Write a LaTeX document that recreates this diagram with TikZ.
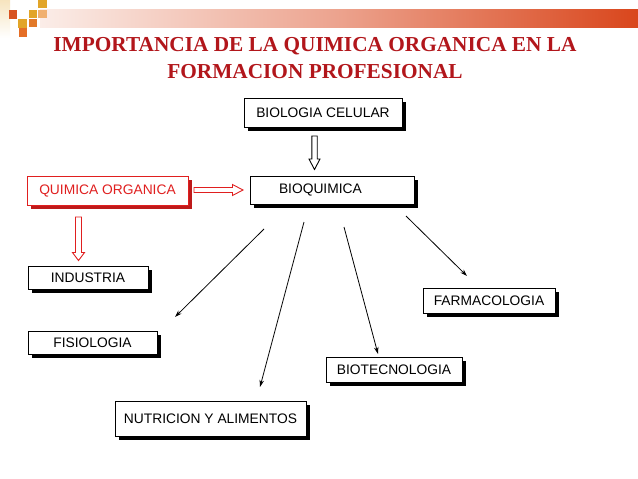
\documentclass[tikz,border=0pt]{standalone}
\usepackage{fontspec}
\setmainfont{Liberation Sans}
\newfontfamily\titlefont{Liberation Serif}
\usetikzlibrary{shadows,arrows.meta}
\definecolor{titlered}{HTML}{B2161B}
\definecolor{boxred}{HTML}{E01F1F}
\definecolor{gold}{HTML}{E2A528}
\definecolor{redorange}{HTML}{D8531F}
\definecolor{orng}{HTML}{E27A2A}
\definecolor{peach}{HTML}{F0B070}
\definecolor{barright}{HTML}{D9461C}
\definecolor{barleft}{HTML}{FBEDE8}
\tikzset{
  box/.style={draw=black, line width=1pt, fill=white, inner sep=0pt,
    font=\fontsize{13.8pt}{16pt}\selectfont,
    drop shadow={shadow xshift=3.5pt, shadow yshift=-3.5pt, fill=black, opacity=1}},
  redbox/.style={box, draw=boxred, text=boxred,
    drop shadow={shadow xshift=3.5pt, shadow yshift=-3.5pt, fill=boxred!85!black, opacity=1}},
  hollow/.style={draw=black, fill=white, line width=0.9pt, line join=miter},
  link/.style={line width=0.8pt, -{Stealth[length=7pt,width=4.5pt]}},
  sq/.style={inner sep=0pt, minimum size=8.5pt, draw=none},
  ttl/.style={font=\titlefont\bfseries\fontsize{21.3pt}{24pt}\selectfont, text=titlered, anchor=base}
}
\begin{document}
\begin{tikzpicture}[x=1pt,y=-1pt]
\useasboundingbox[fill=white] (0,0) rectangle (638,479);
% header decoration
\shade[top color=gold!30, bottom color=white] (0,0) rectangle (10,38);
\shade[left color=barleft, right color=barright, middle color=barright!50!white] (40,9) rectangle (638,27);
\node[sq, fill=gold] (s1) at (42.5,3.5) {};
\node[sq, fill=redorange] (s2) at (13,14.5) {};
\node[sq, fill=gold] (s3) at (33,14) {};
\node[sq, fill=peach] (s4) at (42.5,14) {};
\node[sq, fill=gold] (s5) at (22.5,23.5) {};
\node[sq, fill=orng] (s6) at (33,23) {};
\node[sq, fill=orng!90!red] (s7) at (23,32.5) {};
% title
\node[ttl] (t1) at (315,52) {IMPORTANCIA DE LA QUIMICA ORGANICA EN LA};
\node[ttl] (t2) at (315,78) {FORMACION PROFESIONAL};
% boxes
\node[box, minimum width=158pt, minimum height=29pt] (bio) at (323,112.5) {BIOLOGIA CELULAR};
\node[box, text width=164pt, align=left, minimum height=28pt] (bioq) at (332,190) {\hspace*{29pt}BIOQUIMICA};
\node[redbox, minimum width=161pt, minimum height=29pt] (qo) at (107.5,190.5) {QUIMICA ORGANICA};
\node[box, minimum width=120pt, minimum height=23pt] (ind) at (88,277.5) {INDUSTRIA};
\node[box, minimum width=129pt, minimum height=23pt] (fis) at (92.5,342.5) {FISIOLOGIA};
\node[box, minimum width=132pt, minimum height=25pt] (far) at (489,300.5) {FARMACOLOGIA};
\node[box, minimum width=136pt, minimum height=25pt] (biot) at (394,369.5) {BIOTECNOLOGIA};
\node[box, minimum width=191pt, minimum height=35pt] (nut) at (210.5,418.5) {NUTRICION Y ALIMENTOS};
% hollow block arrows
\draw[hollow] (311.8,136) -- (317.2,136) -- (317.2,159) -- (320,159) -- (314.5,169.5)
  -- (309,159) -- (311.8,159) -- cycle;
\draw[hollow, draw=boxred] (194,187.5) -- (232.5,187.5) -- (232.5,184.5) -- (243,190)
  -- (232.5,195.5) -- (232.5,192.5) -- (194,192.5) -- cycle;
\draw[hollow, draw=boxred] (75.5,217) -- (81.5,217) -- (81.5,252.5) -- (84.5,252.5) -- (78.5,260.5)
  -- (72.5,252.5) -- (75.5,252.5) -- cycle;
% thin arrows
\coordinate (f1) at (264,229); \coordinate (e1) at (175,317);
\coordinate (f2) at (304,222); \coordinate (e2) at (260,387);
\coordinate (f3) at (344,227); \coordinate (e3) at (378,354);
\coordinate (f4) at (406,216); \coordinate (e4) at (467,276);
\draw[link] (f1) -- (e1);
\draw[link] (f2) -- (e2);
\draw[link] (f3) -- (e3);
\draw[link] (f4) -- (e4);
\end{tikzpicture}
\end{document}
